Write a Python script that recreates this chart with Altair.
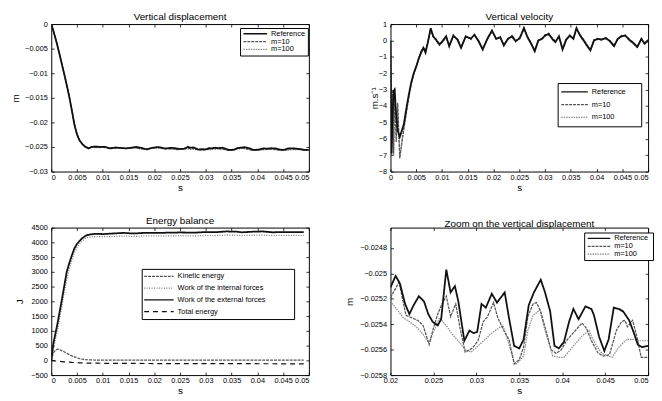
import altair as alt
import pandas as pd

FONT = "Liberation Sans"

# ---------------- Vertical displacement (m) ----------------
disp_t_ref = [0, 0.0005, 0.001, 0.0015, 0.002, 0.0025, 0.003, 0.0035, 0.004, 0.0045,
              0.005, 0.0055, 0.006, 0.0065, 0.0072, 0.0078, 0.0085, 0.0095, 0.0105, 0.0115,
              0.0125, 0.0135, 0.0145, 0.0155, 0.0165, 0.0175, 0.0185, 0.0195,
              0.0200, 0.0206, 0.0211, 0.0217, 0.0222, 0.0227, 0.0233, 0.0239, 0.0244, 0.0249,
              0.0255, 0.0259, 0.0265, 0.0270, 0.0275, 0.0279, 0.0286, 0.0292, 0.0297, 0.0301,
              0.0306, 0.0311, 0.0318, 0.0324, 0.0333, 0.0338, 0.0344, 0.0350, 0.0355, 0.0361,
              0.0367, 0.0375, 0.0380, 0.0386, 0.0391, 0.0396, 0.0402, 0.0408, 0.0413, 0.0419,
              0.0427, 0.0434, 0.0437, 0.0443, 0.0449, 0.0454, 0.0460, 0.0466, 0.0471, 0.0478,
              0.0483, 0.0488, 0.0493, 0.0500]
disp_ref = [0, -0.0017, -0.0036, -0.0057, -0.0079, -0.0101, -0.0124, -0.0148, -0.0176, -0.0205,
            -0.0225, -0.0237, -0.0244, -0.0249, -0.0253, -0.0250, -0.0249, -0.0250, -0.0250, -0.0253,
            -0.0251, -0.0252, -0.0253, -0.02515, -0.0250, -0.0252, -0.0255, -0.0252,
            -0.02511, -0.02502, -0.02508, -0.02524, -0.02532, -0.02525, -0.02518, -0.02522, -0.02532, -0.02538,
            -0.02541, -0.02536, -0.02497, -0.02515, -0.02510, -0.02522, -0.02553, -0.02545, -0.02547, -0.02546,
            -0.02524, -0.02527, -0.02516, -0.02523, -0.02515, -0.02535, -0.02557, -0.02559, -0.02552, -0.02525,
            -0.02515, -0.02505, -0.02515, -0.02530, -0.02557, -0.02559, -0.02554, -0.02538, -0.02528, -0.02536,
            -0.02526, -0.02528, -0.02533, -0.02550, -0.02561, -0.02552, -0.02527, -0.02528, -0.02530, -0.02537,
            -0.02546, -0.02556, -0.02558, -0.02557]

disp_t_m10 = [0, 0.0005, 0.001, 0.0015, 0.002, 0.0025, 0.003, 0.0035, 0.004, 0.0045,
              0.005, 0.0055, 0.006, 0.0065, 0.0072, 0.008, 0.009, 0.010, 0.011, 0.012,
              0.013, 0.014, 0.015, 0.016, 0.017, 0.018, 0.019,
              0.0200, 0.0210, 0.0218, 0.0225, 0.0232, 0.0238, 0.0245, 0.0250, 0.0255, 0.0260,
              0.0265, 0.0270, 0.0276, 0.0281, 0.0287, 0.0295, 0.0302, 0.0308, 0.0313, 0.0320,
              0.0325, 0.0332, 0.0338, 0.0344, 0.0350, 0.0355, 0.0360, 0.0366, 0.0370, 0.0375,
              0.0381, 0.0387, 0.0393, 0.0399, 0.0406, 0.0414, 0.0423, 0.0428, 0.0434, 0.0442,
              0.0448, 0.0455, 0.0463, 0.0469, 0.0473, 0.0476, 0.0482, 0.0487, 0.0492, 0.0500]
disp_m10 = [0, -0.0017, -0.0036, -0.0057, -0.0079, -0.0101, -0.0124, -0.0148, -0.0175, -0.0204,
            -0.0224, -0.0236, -0.0243, -0.0248, -0.0252, -0.02505, -0.0251, -0.02505, -0.0252, -0.0252,
            -0.02515, -0.0253, -0.02525, -0.0251, -0.0253, -0.02545, -0.0253,
            -0.02519, -0.02507, -0.02533, -0.02535, -0.02537, -0.02541, -0.02556, -0.02543, -0.02532, -0.02524,
            -0.02518, -0.02534, -0.02524, -0.02543, -0.02562, -0.02559, -0.02553, -0.02538, -0.02534, -0.02523,
            -0.02535, -0.02545, -0.02552, -0.02571, -0.02568, -0.02558, -0.02534, -0.02524, -0.02523, -0.02530,
            -0.02545, -0.02560, -0.02563, -0.02560, -0.02552, -0.02546, -0.02539, -0.02543, -0.02553, -0.02563,
            -0.02565, -0.02564, -0.02545, -0.02538, -0.02537, -0.02542, -0.02537, -0.02550, -0.02566, -0.02566]

disp_t_m100 = [0, 0.0005, 0.001, 0.0015, 0.002, 0.0025, 0.003, 0.0035, 0.004, 0.0045,
               0.005, 0.0055, 0.006, 0.0065, 0.0072, 0.008, 0.009, 0.010, 0.011, 0.012,
               0.013, 0.014, 0.015, 0.016, 0.017, 0.018, 0.019,
               0.0200, 0.0207, 0.0215, 0.0222, 0.0230, 0.0238, 0.0245, 0.0250, 0.0257, 0.0265,
               0.0272, 0.0280, 0.0287, 0.0294, 0.0302, 0.0310, 0.0318, 0.0326, 0.0331, 0.0338,
               0.0345, 0.0350, 0.0355, 0.0360, 0.0366, 0.0374, 0.0380, 0.0389, 0.0396, 0.0402,
               0.0412, 0.0422, 0.0431, 0.0438, 0.0446, 0.0458, 0.0466, 0.0475, 0.0484, 0.0490,
               0.0500]
disp_m100 = [0, -0.0017, -0.0035, -0.0056, -0.0078, -0.0100, -0.0123, -0.0147, -0.0174, -0.0203,
             -0.0223, -0.0236, -0.0243, -0.0248, -0.0252, -0.0251, -0.02515, -0.0251, -0.0252, -0.02525,
             -0.0252, -0.0253, -0.0253, -0.0252, -0.0253, -0.0254, -0.02535,
             -0.02522, -0.02528, -0.02535, -0.02538, -0.02542, -0.02548, -0.02555, -0.02546, -0.02535, -0.02541,
             -0.02548, -0.02554, -0.02560, -0.02562, -0.02557, -0.02552, -0.02547, -0.02543, -0.02541, -0.02556,
             -0.02572, -0.02569, -0.02565, -0.02545, -0.02533, -0.02529, -0.02545, -0.02565, -0.02566, -0.02566,
             -0.02558, -0.02550, -0.02545, -0.02555, -0.02563, -0.02566, -0.02558, -0.02552, -0.02552, -0.02553,
             -0.02553]

# ---------------- Vertical velocity (m/s) ----------------
vel_t = [0, 0.0002, 0.0004, 0.0006, 0.0008, 0.0011, 0.0014, 0.0018, 0.0022, 0.0026,
         0.0030, 0.0035, 0.0040, 0.0045, 0.0050, 0.0055, 0.0060, 0.0064, 0.0068, 0.0073,
         0.0078,
         0.0083, 0.0088, 0.0095, 0.0101, 0.0108, 0.0114, 0.0122, 0.0130, 0.0137, 0.0146,
         0.0156, 0.0163, 0.0171, 0.0179, 0.0188, 0.0197, 0.0205, 0.0213, 0.0220, 0.0228,
         0.0236, 0.0243, 0.0251, 0.0259, 0.0266, 0.0273, 0.0280, 0.0287, 0.0294, 0.0300,
         0.0307, 0.0314, 0.0320, 0.0327, 0.0334, 0.0341, 0.0348, 0.0355, 0.0361, 0.0368,
         0.0375, 0.0381, 0.0388, 0.0395, 0.0402, 0.0410, 0.0418, 0.0426, 0.0434, 0.0441,
         0.0448, 0.0456, 0.0463, 0.0471, 0.0479, 0.0487, 0.0493, 0.0500]
vel_ref = [0, -6.9, -4.8, -3.1, -3.0, -4.5, -5.5, -5.9, -5.5, -5.1,
           -4.3, -3.4, -2.6, -2.0, -1.6, -1.1, -0.7, -0.45, -0.75, -0.05,
           0.75,
           0.25, 0.05, -0.25, -0.05, 0.25, -0.35, 0.30, 0.05, -0.45, 0.25,
           0.10, 0.35, -0.05, -0.55, 0.10, 0.60, 0.10, 0.20, -0.30, 0.10,
           0.25, -0.05, 0.15, 0.75, 0.20, -0.20, -0.65, 0.00, 0.10, 0.30,
           0.40, 0.10, -0.10, 0.25, -0.55, 0.05, 0.30, 0.10, 0.75, 0.30,
           0.00, -0.30, -0.60, 0.00, 0.10, 0.05, 0.15, -0.05, -0.35, 0.10,
           0.25, 0.30, 0.05, -0.15, -0.40, 0.10, -0.20, 0.00]
vel_m10 = [0, -7.0, -3.0, -6.9, -2.9, -6.2, -3.8, -7.2, -6.3, -5.4,
           -4.6, -3.6, -2.7, -2.1, -1.6, -1.1, -0.6, -0.5, -0.6, 0.0,
           0.65,
           0.20, 0.10, -0.20, -0.10, 0.20, -0.30, 0.25, 0.10, -0.40, 0.20,
           0.15, 0.30, 0.00, -0.50, 0.05, 0.55, 0.15, 0.15, -0.25, 0.05,
           0.30, 0.00, 0.10, 0.70, 0.25, -0.15, -0.60, 0.05, 0.05, 0.35,
           0.35, 0.15, -0.05, 0.20, -0.50, 0.10, 0.25, 0.15, 0.70, 0.35,
           0.05, -0.25, -0.55, 0.05, 0.05, 0.10, 0.10, 0.00, -0.30, 0.05,
           0.30, 0.25, 0.10, -0.10, -0.35, 0.05, -0.15, 0.05]
vel_m100 = [0, -6.8, -3.4, -7.0, -3.2, -5.8, -4.2, -7.1, -6.1, -5.3,
            -4.5, -3.5, -2.7, -2.0, -1.5, -1.0, -0.6, -0.4, -0.65, -0.05,
            0.70,
            0.30, 0.00, -0.30, 0.00, 0.30, -0.40, 0.35, 0.00, -0.50, 0.30,
            0.05, 0.40, -0.10, -0.60, 0.15, 0.65, 0.05, 0.25, -0.35, 0.15,
            0.20, -0.10, 0.20, 0.80, 0.15, -0.25, -0.70, -0.05, 0.15, 0.25,
            0.45, 0.05, -0.15, 0.30, -0.60, 0.00, 0.35, 0.05, 0.80, 0.25,
            -0.05, -0.35, -0.65, -0.05, 0.15, 0.00, 0.20, -0.10, -0.40, 0.15,
            0.20, 0.35, 0.00, -0.20, -0.45, 0.15, -0.25, -0.05]

# ---------------- Energy balance (J) ----------------
en_t = [0, 0.0004, 0.0008, 0.0012, 0.0016, 0.002, 0.0025, 0.003, 0.0035, 0.004,
        0.0045, 0.005, 0.0055, 0.006, 0.0065, 0.007, 0.008, 0.009, 0.010, 0.012,
        0.014, 0.016, 0.018, 0.020, 0.022, 0.025, 0.028, 0.030, 0.032, 0.034,
        0.036, 0.037, 0.039, 0.041, 0.043, 0.045, 0.047, 0.049]
en_kinetic = [0, 250, 340, 380, 365, 330, 290, 240, 195, 150,
              115, 85, 60, 40, 28, 20, 12, 10, 10, 9,
              8, 9, 8, 10, 9, 8, 9, 10, 9, 9,
              10, 9, 8, 10, 9, 8, 9, 9]
en_internal = [0, 380, 700, 1000, 1380, 1780, 2280, 2750, 3100, 3400,
               3650, 3830, 3950, 4050, 4120, 4160, 4190, 4200, 4190, 4200,
               4215, 4200, 4215, 4220, 4215, 4225, 4220, 4235, 4230, 4245,
               4240, 4230, 4240, 4250, 4230, 4240, 4240, 4235]
en_external = [0, 560, 900, 1240, 1620, 2000, 2500, 3000, 3300, 3560,
               3800, 3950, 4050, 4140, 4200, 4250, 4280, 4290, 4280, 4300,
               4320, 4300, 4320, 4320, 4325, 4335, 4330, 4350, 4345, 4370,
               4360, 4340, 4360, 4370, 4340, 4350, 4350, 4345]
en_total = [0, -10, -20, -28, -35, -42, -50, -57, -63, -70,
            -75, -80, -84, -88, -91, -93, -96, -98, -100, -102,
            -104, -105, -107, -108, -109, -110, -111, -112, -113, -114,
            -114, -115, -115, -116, -116, -117, -117, -118]

# ---------------- labels / ticks ----------------
run_names = ["Reference", "m=10", "m=100"]
energy_names = ["Kinetic energy", "Work of the internal forces",
                "Work of the external forces", "Total energy"]
x_ticks_full = [0, 0.005, 0.01, 0.015, 0.02, 0.025, 0.03, 0.035, 0.04, 0.045, 0.05]
x_ticks_zoom = [0.02, 0.025, 0.03, 0.035, 0.04, 0.045, 0.05]
disp_ticks = [-0.03, -0.025, -0.02, -0.015, -0.01, -0.005, 0]
vel_ticks = [-8, -7, -6, -5, -4, -3, -2, -1, 0, 1]
energy_ticks = [-500, 0, 500, 1000, 1500, 2000, 2500, 3000, 3500, 4000, 4500]
zoom_ticks = [-0.0258, -0.0256, -0.0254, -0.0252, -0.025, -0.0248]


def frame(parts):
    rows = []
    for name, ts, vs in parts:
        assert len(ts) == len(vs), name
        rows += [{"t": t, "v": v, "series": name} for t, v in zip(ts, vs)]
    return pd.DataFrame(rows)


disp_df = frame([("m=100", disp_t_m100, disp_m100), ("m=10", disp_t_m10, disp_m10),
                 ("Reference", disp_t_ref, disp_ref)])
vel_df = frame([("m=100", vel_t, vel_m100), ("m=10", vel_t, vel_m10),
                ("Reference", vel_t, vel_ref)])
en_df = frame([("Kinetic energy", en_t, en_kinetic),
               ("Work of the internal forces", en_t, en_internal),
               ("Work of the external forces", en_t, en_external),
               ("Total energy", en_t, en_total)])
zoom_df = disp_df[disp_df["t"] >= 0.02]

W, H = 262, 150
RUN_COLORS = ["#111111", "#555555", "#8a8a8a"]
RUN_DASH = [[1, 0], [3, 1], [1.5, 1]]
EN_COLORS = ["#555555", "#777777", "#111111", "#111111"]
EN_DASH = [[3, 1], [1, 1.5], [1, 0], [5, 4]]
PAD_CHARS = "\u00a0"
END_MARK = "\u200b"


def panel(df, names, colors, dashes, thick, xdom, xticks, xfmt, ydom, yticks, yfmt,
          title, ytitle, ytx, leg_x, leg_y, sym, rowh, legpad, tail, edge):
    legend = alt.Legend(title=None, orient="none", legendX=leg_x, legendY=leg_y,
                        fillColor="white", strokeColor="black", padding=legpad,
                        cornerRadius=0, symbolType="stroke", symbolSize=sym,
                        symbolStrokeWidth=1.3, labelFont=FONT, labelFontSize=7.5,
                        labelColor="black", rowPadding=0, clipHeight=rowh, labelOffset=3,
                        labelExpr="datum.label + '" + PAD_CHARS * tail + END_MARK + "'")
    xs = alt.Scale(domain=xdom, nice=False, zero=False)
    ys = alt.Scale(domain=ydom, nice=False, zero=False)
    xaxis = dict(orient="bottom", values=xticks, format=xfmt, title="s",
                 offset=-3, tickSize=3, labelPadding=2, titlePadding=1.5, labelOverlap=False)
    if edge:
        xaxis["labelAlign"] = alt.condition("datum.value >= 0.0499", alt.value("right"),
                                            alt.value("center"))
    base = alt.Chart(df)
    lines = base.mark_line(clip=True).encode(
        x=alt.X("t:Q", scale=xs, axis=alt.Axis(**xaxis)),
        y=alt.Y("v:Q", scale=ys,
                axis=alt.Axis(orient="left", values=yticks, format=yfmt, title=ytitle,
                              offset=-3, tickSize=3, labelPadding=4, titleX=ytx,
                              titleY=H / 2, titleAngle=270, titleBaseline="bottom",
                              titleAlign="center", labelOverlap=False)),
        color=alt.Color("series:N", scale=alt.Scale(domain=names, range=colors), legend=legend),
        strokeDash=alt.StrokeDash("series:N", scale=alt.Scale(domain=names, range=dashes),
                                  legend=legend),
        strokeWidth=alt.condition(alt.datum.series == thick, alt.value(1.8), alt.value(1.25)),
    )
    ticks = base.mark_line(opacity=0).encode(
        x=alt.X("t:Q", scale=xs,
                axis=alt.Axis(orient="top", values=xticks, labels=False, title=None,
                              offset=-3, tickSize=3)),
        y=alt.Y("v:Q", scale=ys,
                axis=alt.Axis(orient="right", values=yticks, labels=False, title=None,
                              offset=-3, tickSize=3)),
        detail="series:N",
    )
    return alt.layer(lines, ticks).resolve_axis(x="independent", y="independent").properties(
        width=W, height=H, title=alt.TitleParams(title, fontSize=10, font=FONT,
                                                 fontWeight="normal", offset=-2))


tl = panel(disp_df, run_names, RUN_COLORS, RUN_DASH, "Reference", [0, 0.05], x_ticks_full, "~g",
           [-0.03, 0], disp_ticks, "~g", "Vertical displacement", "m", -34, 192, 4, 576, 6.7,
           2.5, 0, False)
tr = panel(vel_df, run_names, RUN_COLORS, RUN_DASH, "Reference", [0, 0.05], x_ticks_full, "~g",
           [-8, 1], vel_ticks, "d", "Vertical velocity", "m.s⁻¹", -14.5, 170, 60, 729, 12.5,
           2.7, 6, True)
bl = panel(en_df, energy_names, EN_COLORS, EN_DASH, "Work of the external forces", [0, 0.05],
           x_ticks_full, "~g", [-500, 4500], energy_ticks, "d", "Energy balance", "J", -30,
           92, 42, 900, 12, 1.5, 13, False)
br = panel(zoom_df, run_names, RUN_COLORS, RUN_DASH, "Reference", [0.02, 0.05], x_ticks_zoom, "~g",
           [-0.0258, -0.02464], zoom_ticks, "~g", "Zoom on the vertical displacement", "m", -40,
           197, 5, 529, 7, 2.5, 1, True)

chart = alt.concat(tl, tr, bl, br, columns=2, spacing={"row": 57, "column": 83},
                   bounds="flush").resolve_scale(
    color="independent", strokeDash="independent").resolve_legend(
    color="independent", strokeDash="independent").properties(
    padding={"left": 2, "top": 0, "right": 0, "bottom": 0}
).configure(background="white", font=FONT).configure_view(
    stroke="black", strokeWidth=1
).configure_axis(
    labelFont=FONT, labelFontSize=7.5, labelColor="black", titleFont=FONT, titleFontSize=10,
    titleFontWeight="normal", titleColor="black", tickColor="black", tickWidth=0.8,
    domain=False, grid=False
).configure_title(font=FONT, fontSize=10, fontWeight="normal", color="black")

chart.save("out.html", embed_options={"renderer": "svg", "actions": False})
